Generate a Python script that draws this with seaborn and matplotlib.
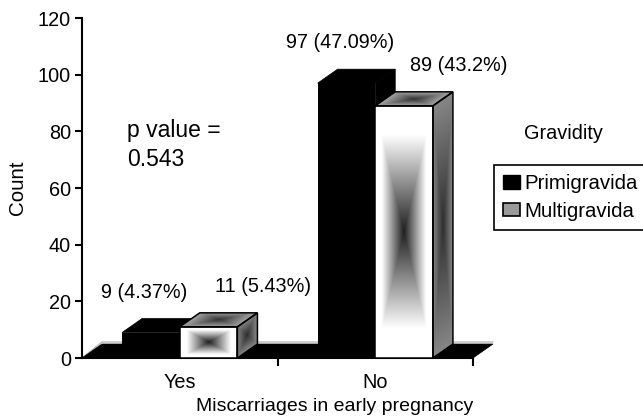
import numpy as np
import pandas as pd
import matplotlib
matplotlib.use('Agg')
import matplotlib.pyplot as plt
import seaborn as sns
from matplotlib.patches import Polygon, Patch

# ---- data ----
categories = ['Yes', 'No']
groups = ['Primigravida', 'Multigravida']
primi_counts = [9, 97]
multi_counts = [11, 89]
primi_pct = ['4.37%', '47.09%']
multi_pct = ['5.43%', '43.2%']
y_ticks = [0, 20, 40, 60, 80, 100, 120]
p_lines = ['p value =', '0.543']

df = pd.DataFrame({
    'Miscarriage': categories * 2,
    'Gravidity': [groups[0]] * len(categories) + [groups[1]] * len(categories),
    'Count': primi_counts + multi_counts,
    'Label': [f'{c} ({p})' for c, p in zip(primi_counts, primi_pct)]
             + [f'{c} ({p})' for c, p in zip(multi_counts, multi_pct)],
})

sns.set_style('ticks')
plt.rcParams['font.family'] = ['Liberation Sans', 'DejaVu Sans']
plt.rcParams['text.color'] = 'black'
plt.rcParams['axes.labelcolor'] = 'black'
plt.rcParams['xtick.color'] = 'black'
plt.rcParams['ytick.color'] = 'black'

W, H = 643, 419
fig = plt.figure(figsize=(W / 100, H / 100), dpi=100)
ax = fig.add_axes([82 / W, 1 - 358 / H, 391 / W, 340 / H])

sns.barplot(data=df, x='Miscarriage', y='Count', hue='Gravidity',
            order=categories, hue_order=groups,
            palette={groups[0]: 'black', groups[1]: 'white'},
            width=0.59, gap=0, dodge=True, errorbar=None, legend=False,
            saturation=1, linewidth=0, ax=ax)

XMIN, XMAX, YMIN, YMAX = -0.5, 1.5, 0, 120
px_x = 391 / (XMAX - XMIN)
px_y = 340 / (YMAX - YMIN)
DX = 20 / px_x
DY = 14 / px_y

# floor
floor = Polygon([(XMIN, 0), (XMAX, 0), (XMAX + DX, DY), (XMIN + DX, DY)],
                closed=True, facecolor='black', edgecolor='black', lw=0.5,
                zorder=2, clip_on=False)
ax.add_patch(floor)
ax.plot([XMIN, XMIN + DX, XMAX + DX], [0, DY + 0.7, DY + 0.7],
        color='#bbbbbb', lw=1, zorder=1.5, clip_on=False)


def grad_face(origin, e1, e2, fn, zorder):
    origin = np.asarray(origin, float)
    e1 = np.asarray(e1, float)
    e2 = np.asarray(e2, float)
    corners = np.array([origin, origin + e1, origin + e1 + e2, origin + e2])
    xmin, xmax = corners[:, 0].min(), corners[:, 0].max()
    ymin, ymax = corners[:, 1].min(), corners[:, 1].max()
    n = 300
    X, Y = np.meshgrid(np.linspace(xmin, xmax, n), np.linspace(ymin, ymax, n))
    inv = np.linalg.inv(np.array([e1, e2]).T)
    dx_ = X - origin[0]
    dy_ = Y - origin[1]
    s = inv[0, 0] * dx_ + inv[0, 1] * dy_
    t = inv[1, 0] * dx_ + inv[1, 1] * dy_
    r = np.maximum(np.abs(2 * s - 1), np.abs(2 * t - 1))
    g = np.clip(fn(r), 0, 1)
    img = np.dstack([g, g, g])
    im = ax.imshow(img, extent=[xmin, xmax, ymin, ymax], origin='lower',
                   aspect='auto', interpolation='bilinear', zorder=zorder)
    poly = Polygon(corners, closed=True, facecolor='none', edgecolor='black',
                   lw=1.1, zorder=zorder + 0.1, clip_on=False)
    ax.add_patch(poly)
    im.set_clip_path(poly)


patches = list(ax.patches)
dark = [p for p in patches if sum(p.get_facecolor()[:3]) < 1.5 and p is not floor]
light = [p for p in patches if sum(p.get_facecolor()[:3]) >= 1.5]

for p in dark:
    x0, w, h = p.get_x(), p.get_width(), p.get_height()
    p.set_zorder(3)
    top = Polygon([(x0, h), (x0 + w, h), (x0 + w + DX, h + DY), (x0 + DX, h + DY)],
                  closed=True, facecolor='black', edgecolor='black', lw=0.5, zorder=3)
    side = Polygon([(x0 + w, 0), (x0 + w + DX, DY), (x0 + w + DX, h + DY), (x0 + w, h)],
                   closed=True, facecolor='black', edgecolor='black', lw=0.5, zorder=3)
    ax.add_patch(top)
    ax.add_patch(side)

for p in light:
    x0, w, h = p.get_x(), p.get_width(), p.get_height()
    p.set_zorder(4)
    grad_face((x0, 0), (w, 0), (0, h), lambda r: 0.12 + 1.15 * r, 5)
    grad_face((x0, h), (w, 0), (DX, DY), lambda r: 0.2 + 0.45 * r, 5)
    grad_face((x0 + w, 0), (DX, DY), (0, h), lambda r: 0.18 + 0.35 * r, 5)

ax.set_xlim(XMIN, XMAX)
ax.set_ylim(YMIN, YMAX)

# data labels
for bars, labs, off in ((dark, df['Label'][:2], -0.033), (light, df['Label'][2:], 0.28)):
    for p, lab in zip(bars, labs):
        cx = p.get_x() + p.get_width() / 2
        ax.text(cx + off, p.get_height() + 14.2, lab, ha='center', va='center',
                fontsize=14.3, zorder=6)

# p value
for i, line in enumerate(p_lines):
    ax.text(-0.271, 78.0 - 10.2 * i, line, ha='left', va='baseline', fontsize=16.5)

# axes styling
for s in ('top', 'right'):
    ax.spines[s].set_visible(False)
for s in ('left', 'bottom'):
    ax.spines[s].set_linewidth(1.5)
    ax.spines[s].set_color('black')
ax.set_yticks(y_ticks)
ax.set_yticklabels([str(v) for v in y_ticks])
ax.tick_params(axis='y', length=5, width=1.5, pad=3, labelsize=14.3, left=True)
ax.set_xticks(range(len(categories)))
ax.set_xticklabels(categories)
ax.set_xticks([0.5, 1.5], minor=True)
ax.tick_params(axis='x', which='major', length=0, pad=11, labelsize=14.3)
ax.tick_params(axis='x', which='minor', length=6, width=1.5, bottom=True)

ax.set_xlabel('Miscarriages in early pregnancy', fontsize=14)
ax.xaxis.set_label_coords(0.645, -0.118)
ax.set_ylabel('Count', fontsize=14.8)
ax.yaxis.set_label_coords(-0.14, 0.5)

# legend
handles = [Patch(facecolor='black', edgecolor='black'),
           Patch(facecolor='#9a9a9a', edgecolor='black', lw=1.2)]
leg = fig.legend(handles, groups, loc='upper left',
                 bbox_to_anchor=(494 / W, 1 - 165 / H), frameon=True,
                 fancybox=False, edgecolor='black', framealpha=1,
                 fontsize=14.7, handlelength=0.8, handleheight=0.65,
                 handletextpad=0.25, borderpad=0.45, labelspacing=0.42,
                 borderaxespad=0)
leg.get_frame().set_linewidth(1.2)
fig.text(563 / W, 1 - 133 / H, 'Gravidity', ha='center', va='center', fontsize=14.3)

fig.savefig('out.png', dpi=100)
